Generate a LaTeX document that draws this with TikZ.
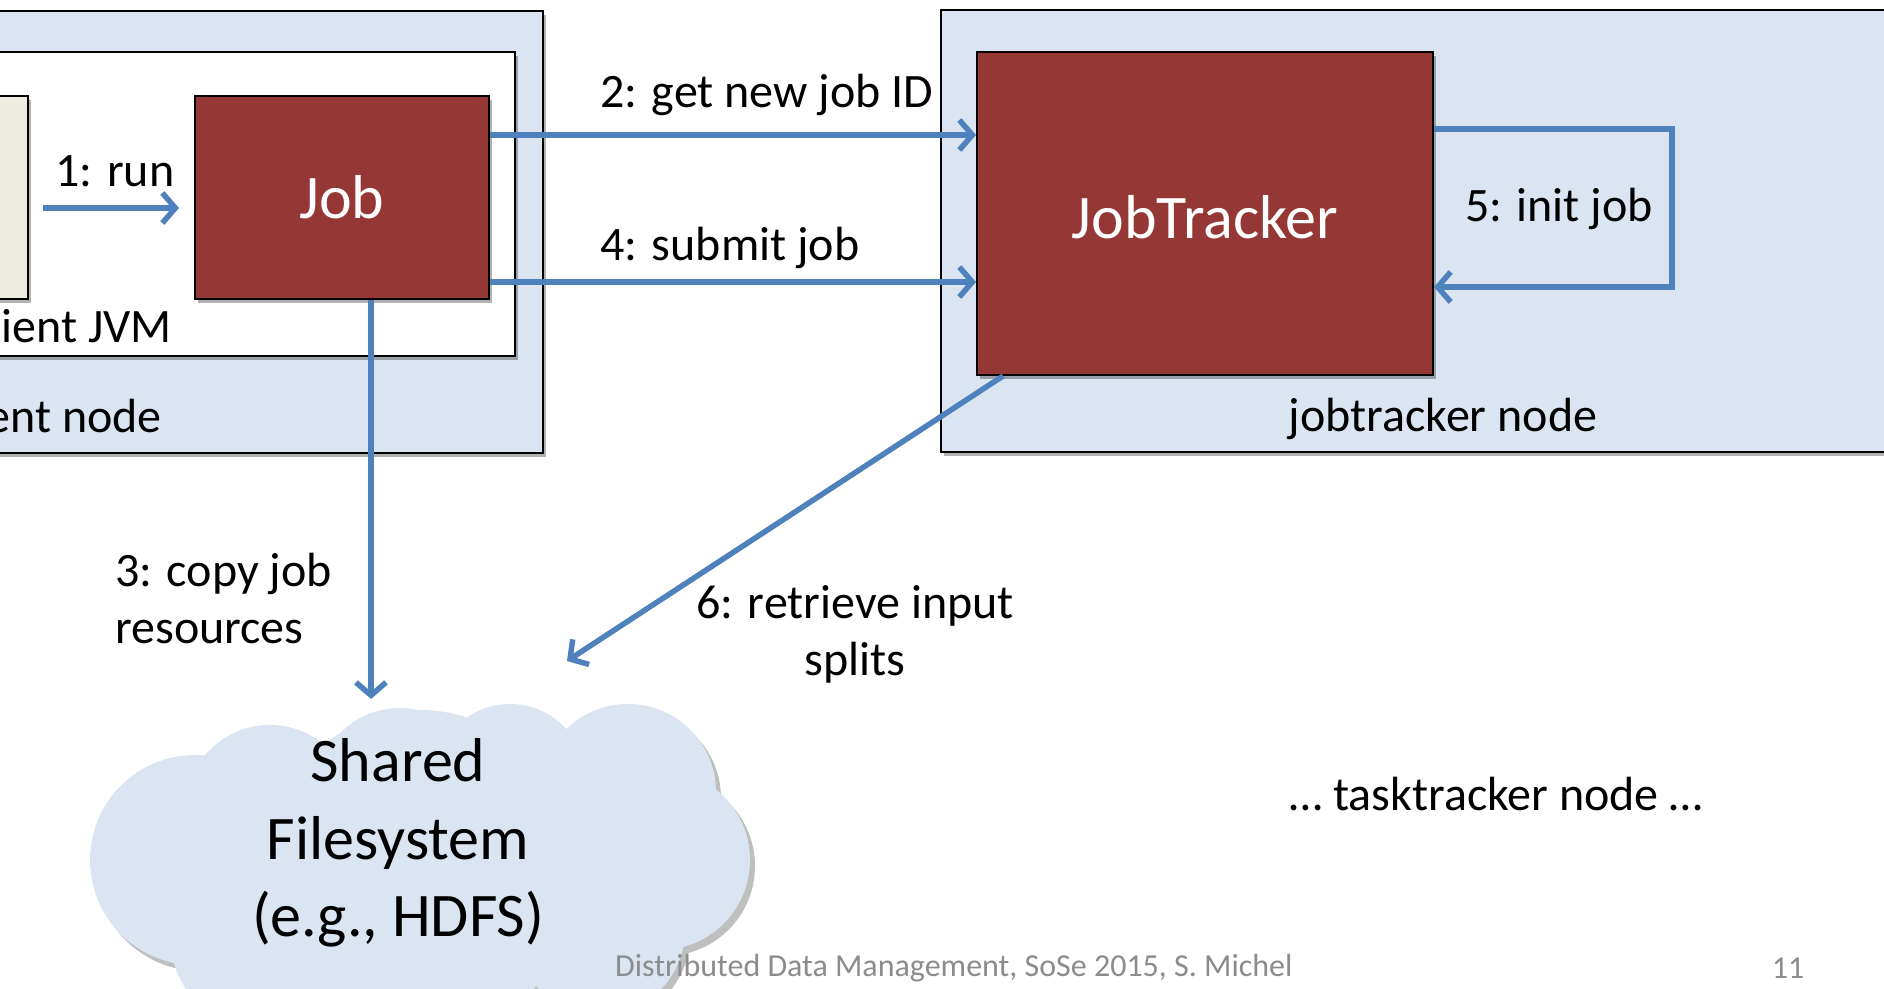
\documentclass[tikz,border=0pt]{standalone}
\usepackage{fontspec}
\setmainfont{Carlito}
\usetikzlibrary{arrows.meta,shadows,calc}
\definecolor{nodeblue}{HTML}{DBE5F1}
\definecolor{jobred}{HTML}{953735}
\definecolor{arrowblue}{HTML}{4F81BD}
\definecolor{beigefill}{HTML}{EEECE1}
\definecolor{footgray}{HTML}{8C8C8C}
\newcommand\lblfont{\fontsize{48}{57}\selectfont}
\newcommand\bigfont{\fontsize{62}{77.5}\selectfont}
\tikzset{
  boxshadow/.style={drop shadow={shadow xshift=3pt,shadow yshift=-4pt,opacity=0.3,fill=black}},
  frame/.style={draw=black,line width=2pt,inner sep=0pt,boxshadow},
  hostbox/.style={frame,fill=nodeblue},
  jvmbox/.style={frame,fill=white},
  redbox/.style={frame,fill=jobred,text=white,font=\bigfont},
  beigebox/.style={frame,fill=beigefill},
  arr/.style={draw=arrowblue,line width=5.5pt,-{Straight Barb[length=13pt,width=30pt]}},
  lbl/.style={font=\lblfont,inner sep=0pt},
}
\begin{document}
\begin{tikzpicture}[x=1pt,y=-1pt]
\clip (0,0) rectangle (1884,988);
\fill[white] (0,0) rectangle (1884,988);

% client node
\node[hostbox,minimum width=563pt,minimum height=442pt] (cn) at (261.5,232) {};
\node[jvmbox,minimum width=535pt,minimum height=304pt] (jvm) at (247.5,204) {};
\node[beigebox,minimum width=48pt,minimum height=203pt] (beige) at (4,197.5) {};
\node[redbox,minimum width=294pt,minimum height=203pt] (job) at (342,197.5) {Job};
\node[lbl,anchor=east] (jvmlbl) at (172,326) {ient JVM};
\node[lbl,anchor=east] (cnlbl) at (162,416) {ent node};

% jobtracker node
\node[hostbox,minimum width=959pt,minimum height=442pt] (jtn) at (1420.5,231) {};
\node[redbox,minimum width=456pt,minimum height=323pt] (jt) at (1205,213.5) {};
\node[font=\bigfont,text=white,inner sep=0pt] (jtlbl) at (1205,217) {JobTracker};
\node[lbl] (jtnlbl) at (1443,419) {jobtracker node};

% cloud
\begin{scope}[shift={(5,6)}]
  \fill[black!25]
    (195,860) circle[radius=105] (270,810) circle[radius=85]
    (400,792) circle[radius=84] (510,780) circle[radius=76]
    (628,792) circle[radius=88] (660,860) circle[radius=90]
    (600,930) circle[radius=85] (450,945) circle[radius=95]
    (270,935) circle[radius=100] (420,860) circle[radius=150];
\end{scope}
\fill[nodeblue]
    (195,860) circle[radius=105] (270,810) circle[radius=85]
    (400,792) circle[radius=84] (510,780) circle[radius=76]
    (628,792) circle[radius=88] (660,860) circle[radius=90]
    (600,930) circle[radius=85] (450,945) circle[radius=95]
    (270,935) circle[radius=100] (420,860) circle[radius=150];
\node[font=\bigfont,align=center,inner sep=0pt] (fs) at (398,843) {Shared\\Filesystem\\(e.g., HDFS)};

% free ends
\coordinate (fsin) at (371,699);
\coordinate (fsin6) at (567,661);

% connectors
\draw[arr] ([xshift=14pt]beige.east |- 0,208) -- ([xshift=-15pt]job.west |- 0,208);
\node[lbl] (l1) at (115,171) {1: run};

\draw[arr] (job.east |- 0,135) -- (jt.west |- 0,135);
\node[lbl,anchor=west] (l2) at (600,95) {2: get new job ID};

\draw[arr] (job.south -| 371,0) -- (fsin);
\node[lbl,anchor=west,align=left] (l3) at (115,599) {3: copy job\\resources};

\draw[arr] (job.east |- 0,282) -- (jt.west |- 0,282);
\node[lbl,anchor=west] (l4) at (600,248) {4: submit job};

\draw[arr] (jt.east |- 0,129) -- (1672,129) |- (jt.east |- 0,287);
\node[lbl] (l5) at (1559,209) {5: init job};

\draw[arr] ([xshift=27pt]jt.south west) -- (fsin6);
\node[lbl,align=center] (l6) at (855,634) {6: retrieve input\\splits};

\node[lbl] (tt) at (1496,794) {… tasktracker node …};

% footer
\node[font=\fontsize{32}{38}\selectfont,text=footgray,anchor=west,inner sep=0pt] (foot) at (615,968) {Distributed Data Management, SoSe 2015, S. Michel};
\node[font=\fontsize{32}{38}\selectfont,text=footgray,inner sep=0pt] (page) at (1788,968) {11};
\end{tikzpicture}
\end{document}
